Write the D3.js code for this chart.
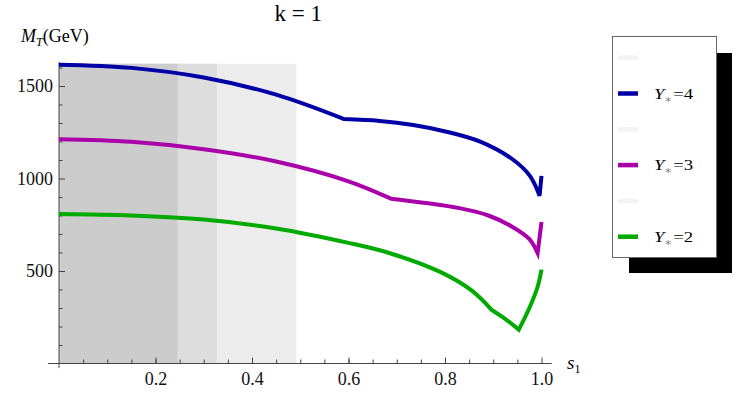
<!DOCTYPE html>
<html>
<head>
<meta charset="utf-8">
<script src="https://cdn.jsdelivr.net/npm/d3@7"></script>
<style>
  body { margin: 0; background: #fff; }
  svg { display: block; font-family: "Liberation Serif", "Times New Roman", serif; }
  svg text { font-family: "Liberation Serif", "Times New Roman", serif; }
</style>
</head>
<body>
<div class="chart"></div>
<script>
// values
var xTicksMajor = [0.2, 0.4, 0.6, 0.8, 1.0]
var xTicksMinor = d3.range(1, 20).map(function(i){ return i * 0.05 })
var yTicksMajor = [500, 1000, 1500]
var yTicksMinor = [100, 200, 300, 400, 600, 700, 800, 900, 1100, 1200, 1300, 1400, 1600]

// shaded excluded regions in s1
var bandEnds = [0.492, 0.327, 0.246]
var bandColors = ['#ececec', '#dddddd', '#cccccc']
var bandTop = 1620

// Y*=4
var sBlue = [0, 0.15, 0.3, 0.45, 0.591, 0.665, 0.734, 0.803, 0.873, 0.942, 0.976, 0.996, 1.0]
var mBlue = [1615, 1598, 1546, 1453, 1321, 1311, 1289, 1253, 1199, 1100, 1014, 907, 1014]
var blueBreaks = [0.591, 0.996]

// Y*=3
var sMag = [0, 0.15, 0.3, 0.45, 0.6, 0.688, 0.76, 0.83, 0.89, 0.94, 0.975, 0.992, 1.0]
var mMag = [1212, 1198, 1158, 1092, 985, 891, 868, 840, 800, 738, 672, 597, 765]
var magBreaks = [0.688, 0.992]

// Y*=2
var sGreen = [0, 0.15, 0.3, 0.45, 0.6, 0.686, 0.79, 0.855, 0.897, 0.928, 0.953, 0.976, 0.992, 1.0]
var mGreen = [808, 800, 778, 730, 652, 596, 495, 395, 289, 235, 183, 307, 415, 507]
var greenBreaks = [0.897, 0.953]

var legendLabels = ['', '4', '', '3', '', '2']
var legendColors = ['#f3f3f3', '#0000a6', '#f3f3f3', '#aa00aa', '#f3f3f3', '#00aa00']

var w = 747
var h = 404

var svg = d3.select('.chart').append('svg')
    .attr('width', w)
    .attr('height', h)

var x = d3.scaleLinear().domain([0, 1]).range([59, 541.5])
var y = d3.scaleLinear().domain([0, 1000]).range([363.5, 178.5])

// SHADED BANDS
svg.append('g').selectAll('rect')
    .data(bandEnds)
    .enter().append('rect')
    .attr('x', x(0))
    .attr('y', y(bandTop))
    .attr('width', function(d){ return x(d) - x(0) })
    .attr('height', y(0) - y(bandTop))
    .attr('fill', function(d, i){ return bandColors[i] })

// AXES
var axisColor = '#444'
function clean(g){
    g.attr('font-family', null).attr('font-size', null)
    g.select('.domain').remove()
}
svg.append('g').attr('transform', 'translate(0,' + y(0) + ')')
    .call(d3.axisBottom(x).tickValues(xTicksMinor).tickSizeInner(-4).tickSizeOuter(0).tickFormat(''))
    .call(clean)
svg.append('g').attr('transform', 'translate(0,' + y(0) + ')')
    .call(d3.axisBottom(x).tickValues(xTicksMajor).tickSizeInner(-6).tickSizeOuter(0).tickPadding(9)
        .tickFormat(d3.format('.1f')))
    .call(clean)

svg.append('g').attr('transform', 'translate(' + x(0) + ',0)')
    .call(d3.axisLeft(y).tickValues(yTicksMinor).tickSizeInner(-3.5).tickSizeOuter(0).tickFormat(''))
    .call(clean)
svg.append('g').attr('transform', 'translate(' + x(0) + ',0)')
    .call(d3.axisLeft(y).tickValues(yTicksMajor).tickSizeInner(-6).tickSizeOuter(0).tickPadding(6)
        .tickFormat(d3.format('d')))
    .call(clean)

svg.selectAll('.tick line').attr('stroke', axisColor)
svg.selectAll('.tick text')
    .attr('fill', '#111')
    .style('font-size', '18px')

// axis lines, Mathematica style crossing a bit past the origin
svg.append('line')
    .attr('x1', x(-0.023)).attr('x2', x(1.021))
    .attr('y1', y(0)).attr('y2', y(0))
    .attr('stroke', axisColor)
svg.append('line')
    .attr('x1', x(0)).attr('x2', x(0))
    .attr('y1', y(-25)).attr('y2', y(1630))
    .attr('stroke', axisColor)

// CURVES, smooth pieces joined at the kinks
var line = d3.line()
    .x(function(d){ return x(d[0]) })
    .y(function(d){ return y(d[1]) })
    .curve(d3.curveCatmullRom.alpha(0.5))

function curvePath(s, m, breaks){
    var segs = [[]]
    s.forEach(function(v, i){
        segs[segs.length - 1].push([v, m[i]])
        if (breaks.indexOf(v) >= 0 && i < s.length - 1) segs.push([[v, m[i]]])
    })
    return segs.map(function(seg, i){
        var p = line(seg)
        return i ? p.replace(/^M/, 'L') : p
    }).join('')
}

var curves = [
    {s: sGreen, m: mGreen, b: greenBreaks, c: '#00aa00'},
    {s: sMag, m: mMag, b: magBreaks, c: '#aa00aa'},
    {s: sBlue, m: mBlue, b: blueBreaks, c: '#0000a6'}
]
svg.append('g').selectAll('path')
    .data(curves)
    .enter().append('path')
    .attr('d', function(d){ return curvePath(d.s, d.m, d.b) })
    .attr('fill', 'none')
    .attr('stroke', function(d){ return d.c })
    .attr('stroke-width', 4)
    .attr('stroke-linejoin', 'miter')

// TITLE AND AXIS LABELS
svg.append('text')
    .attr('x', x(0.5) - 2).attr('y', 21)
    .attr('text-anchor', 'middle')
    .style('font-size', '23px')
    .text('k = 1')

var yl = svg.append('text').attr('x', 21).attr('y', 42).style('font-size', '18px')
yl.append('tspan').style('font-style', 'italic').text('M')
yl.append('tspan').style('font-style', 'italic').style('font-size', '12px').attr('dy', 4).text('T')
yl.append('tspan').attr('dy', -4).text('(GeV)')

var xl = svg.append('text').attr('x', 567).attr('y', 369).style('font-size', '19px')
xl.append('tspan').style('font-style', 'italic').text('s')
xl.append('tspan').style('font-size', '12px').attr('dy', 4).text('1')

// LEGEND
var lg = svg.append('g')
lg.append('rect')
    .attr('x', 629).attr('y', 53).attr('width', 103).attr('height', 220)
    .attr('fill', '#000')
lg.append('rect')
    .attr('x', 612.5).attr('y', 36.5).attr('width', 104).attr('height', 221)
    .attr('fill', '#fff').attr('stroke', '#666')

var ly = d3.scalePoint().domain(d3.range(legendLabels.length)).range([57.7, 236.7])
var entry = lg.selectAll('.entry')
    .data(legendLabels)
    .enter().append('g')
    .attr('class', 'entry')
    .attr('transform', function(d, i){ return 'translate(618,' + ly(i) + ')' })
entry.append('line')
    .attr('x1', 0).attr('x2', 20)
    .attr('stroke', function(d, i){ return legendColors[i] })
    .attr('stroke-width', 4.5)
var lt = entry.filter(function(d){ return d !== '' })
    .append('text')
    .attr('transform', 'translate(36,5) scale(1.25,1)')
    .style('font-size', '15px')
lt.append('tspan').style('font-style', 'italic').text('Y')
lt.append('tspan').attr('dy', 3).style('font-size', '8px').attr('fill', '#888').text('\u2217')
lt.append('tspan').attr('dy', -3).text(function(d){ return '=' + d })
</script>
</body>
</html>
